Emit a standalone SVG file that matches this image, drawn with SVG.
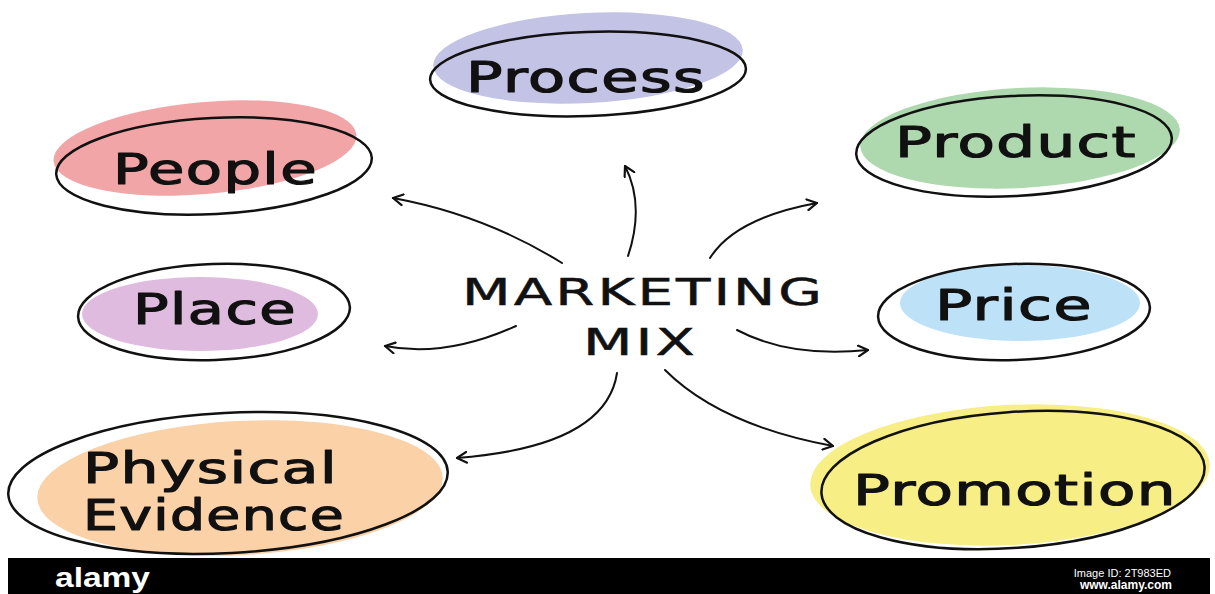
<svg xmlns="http://www.w3.org/2000/svg" width="1215" height="594" viewBox="0 0 1215 594">
  <style>
    .label { font-family: "DejaVu Sans", "Liberation Sans", sans-serif; font-size: 42px; fill: #111; stroke: #111; stroke-width: 1.2; stroke-linejoin: round; letter-spacing: 1px; }
    .hub { font-family: "DejaVu Sans", "Liberation Sans", sans-serif; font-size: 37px; fill: #111; stroke: #111; stroke-width: 0.5; letter-spacing: 2px; }
    .ring { fill: none; stroke: #111; stroke-width: 2.5; }
    .arrow { fill: none; stroke: #111; stroke-width: 2; stroke-linecap: round; marker-end: url(#head); }
    .brand { font-family: "Liberation Sans", "DejaVu Sans", sans-serif; fill: #fff; }
  </style>
  <defs>
    <marker id="head" viewBox="0 0 12 12" refX="10" refY="6" markerWidth="13" markerHeight="13" markerUnits="userSpaceOnUse" orient="auto">
      <path d="M1,1 L10,6 L1,11" fill="none" stroke="#111" stroke-width="2" stroke-linecap="round" stroke-linejoin="round"/>
    </marker>
  </defs>
  <rect width="1215" height="594" fill="#fff"/>

  <!-- outer nodes: wash blob, hand-drawn ring, label -->
  <g id="process">
    <ellipse cx="588" cy="58" rx="155" ry="45" transform="rotate(-3 588 58)" fill="#c3c3e6"/>
    <ellipse cx="588" cy="74" rx="158" ry="42" transform="rotate(-2 588 74)" class="ring"/>
    <text x="466" y="92" class="label" textLength="240" lengthAdjust="spacingAndGlyphs">Process</text>
  </g>
  <g id="people">
    <ellipse cx="205" cy="148" rx="152" ry="46" transform="rotate(-5 205 148)" fill="#f2a5a7"/>
    <ellipse cx="214" cy="166" rx="158" ry="48" transform="rotate(-3 214 166)" class="ring"/>
    <text x="113" y="184" class="label" textLength="205" lengthAdjust="spacingAndGlyphs">People</text>
  </g>
  <g id="product">
    <ellipse cx="1020" cy="138" rx="160" ry="50" transform="rotate(-3 1020 138)" fill="#aed8ad"/>
    <ellipse cx="1014" cy="146" rx="158" ry="50" transform="rotate(-3 1014 146)" class="ring"/>
    <text x="895" y="157" class="label" textLength="242" lengthAdjust="spacingAndGlyphs">Product</text>
  </g>
  <g id="place">
    <ellipse cx="200" cy="314" rx="118" ry="37" fill="#dfbcdf"/>
    <ellipse cx="214" cy="312" rx="136" ry="48" transform="rotate(-2 214 312)" class="ring"/>
    <text x="133" y="324" class="label" textLength="164" lengthAdjust="spacingAndGlyphs">Place</text>
  </g>
  <g id="price">
    <ellipse cx="1020" cy="303" rx="120" ry="38" fill="#bde1f7"/>
    <ellipse cx="1014" cy="312" rx="136" ry="48" transform="rotate(-2 1014 312)" class="ring"/>
    <text x="935" y="320" class="label" textLength="158" lengthAdjust="spacingAndGlyphs">Price</text>
  </g>
  <g id="physical-evidence">
    <ellipse cx="240" cy="488" rx="203" ry="67" transform="rotate(-3 240 488)" fill="#fbd1a8"/>
    <ellipse cx="228" cy="483" rx="220" ry="70" transform="rotate(-3 228 483)" class="ring"/>
    <text x="83" y="483" class="label" textLength="255" lengthAdjust="spacingAndGlyphs">Physical</text>
    <text x="83" y="530" class="label" textLength="262" lengthAdjust="spacingAndGlyphs">Evidence</text>
  </g>
  <g id="promotion">
    <ellipse cx="1010" cy="475" rx="200" ry="70" transform="rotate(-3 1010 475)" fill="#f7ee86"/>
    <ellipse cx="1013" cy="480" rx="192" ry="68" transform="rotate(-4 1013 480)" class="ring"/>
    <text x="853" y="505" class="label" textLength="324" lengthAdjust="spacingAndGlyphs">Promotion</text>
  </g>

  <!-- central hub -->
  <g id="marketing-mix">
    <text x="462" y="305" class="hub" textLength="363" lengthAdjust="spacingAndGlyphs">MARKETING</text>
    <text x="583" y="355" class="hub" textLength="115" lengthAdjust="spacingAndGlyphs">MIX</text>
  </g>

  <!-- connectors from the hub -->
  <g id="connectors">
    <path class="arrow" d="M562,263 Q485,215 393,198"/>
    <path class="arrow" d="M628,256 Q645,205 625,166" stroke-width="3"/>
    <path class="arrow" d="M710,258 Q735,218 817,203"/>
    <path class="arrow" d="M516,326 Q445,358 385,346"/>
    <path class="arrow" d="M737,330 Q790,358 868,350"/>
    <path class="arrow" d="M617,373 C610,420 560,450 457,458"/>
    <path class="arrow" d="M665,370 Q720,425 833,446"/>
  </g>

  <!-- footer strip -->
  <g id="footer">
    <rect x="8" y="558" width="1202" height="36" fill="#000"/>
    <text x="55" y="587" class="brand" font-size="27" font-weight="bold" textLength="95" lengthAdjust="spacingAndGlyphs">alamy</text>
    <text x="1171" y="577" class="brand" font-size="11" text-anchor="end">Image ID: 2T983ED</text>
    <text x="1172" y="589" class="brand" font-size="12" font-weight="bold" text-anchor="end">www.alamy.com</text>
  </g>
</svg>
